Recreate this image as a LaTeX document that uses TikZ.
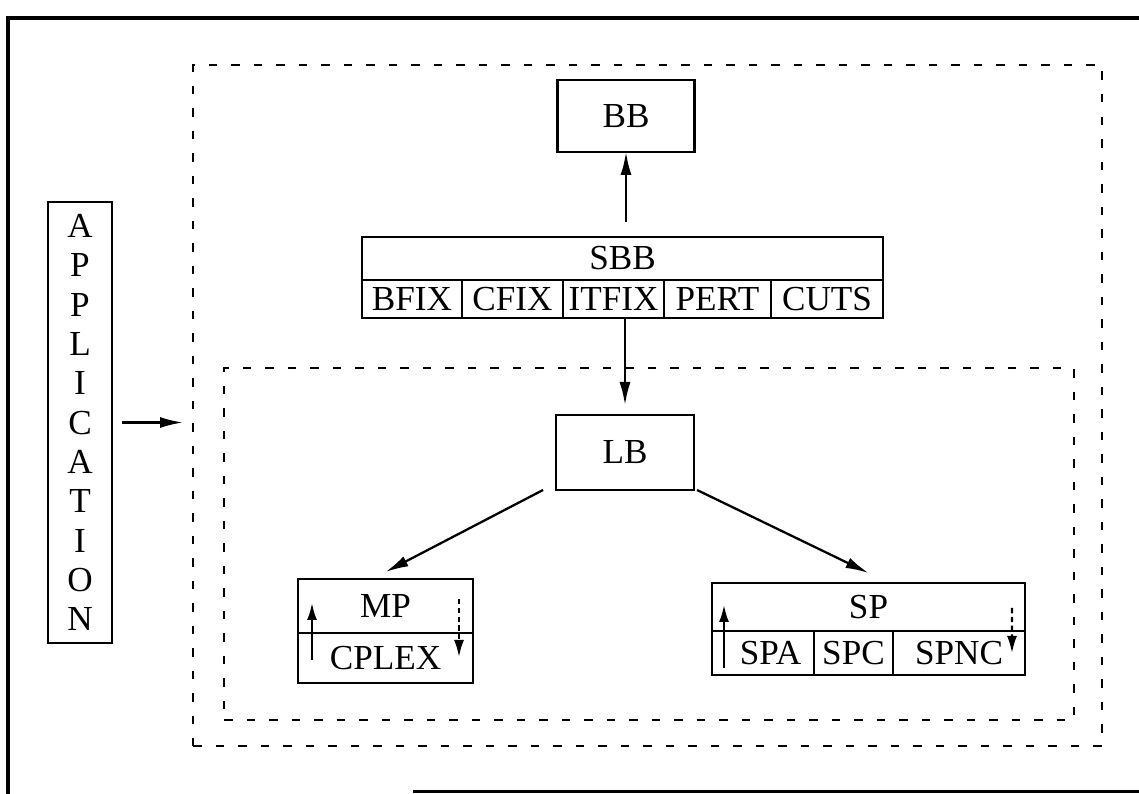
\documentclass[tikz,border=0pt]{standalone}
\usepackage{fontspec}
\setmainfont{Liberation Serif}
\usetikzlibrary{arrows.meta,positioning}

\begin{document}
\begin{tikzpicture}[
  cell/.style={draw, line width=1.3pt, inner sep=0pt, outer sep=0pt,
    font=\fontsize{20}{22.4}\selectfont},
  dashbox/.style={draw, line width=1.3pt, dash pattern=on 0.17cm off 0.28cm,
    inner sep=0pt, outer sep=0pt},
  frame/.style={line width=2pt},
  arr/.style={line width=1.3pt, -{Latex[length=0.46cm,width=0.22cm]}},
  minarr/.style={line width=1.2pt, -{Latex[length=0.34cm,width=0.2cm]}}
]
\useasboundingbox (0,0) rectangle (22.78,15.88);

% Outer frame
\draw[frame] (0.16,0) -- (0.16,15.52) -- (22.78,15.52);
\draw[frame] (8.26,0.05) -- (22.78,0.05);

% Dashed regions
\node[dashbox, minimum width=18.18cm, minimum height=13.62cm] (outer) at (12.95,7.77) {};
\node[dashbox, minimum width=17cm, minimum height=7.04cm] (inner) at (12.98,5.0) {};

% Application column
\node[cell, align=center, minimum width=1.28cm, minimum height=8.82cm] (app) at (1.6,7.43)
  {A\\P\\P\\L\\I\\C\\A\\T\\I\\O\\N};

% BB and SBB
\node[cell, minimum width=2.74cm, minimum height=1.44cm] (bb) at (12.52,13.56) {BB};
\node[cell, minimum width=10.42cm, minimum height=0.86cm] (sbb) at (12.45,10.71) {SBB};
\node[cell, minimum width=2cm, minimum height=0.76cm, anchor=north west] (bfix) at (sbb.south west) {BFIX};
\node[cell, minimum width=2.02cm, minimum height=0.76cm, right=0pt of bfix] (cfix) {CFIX};
\node[cell, minimum width=2.02cm, minimum height=0.76cm, right=0pt of cfix] (itfix) {ITFIX};
\node[cell, minimum width=2.14cm, minimum height=0.76cm, right=0pt of itfix] (pert) {PERT};
\node[cell, minimum width=2.24cm, minimum height=0.76cm, right=0pt of pert] (cuts) {CUTS};

% LB
\node[cell, minimum width=2.76cm, minimum height=1.5cm] (lb) at (12.5,6.83) {LB};

% MP
\node[cell, minimum width=3.5cm, minimum height=1.08cm] (mp) at (7.71,3.76) {MP};
\node[cell, minimum width=3.5cm, minimum height=1cm, anchor=north] (cplex) at (mp.south) {CPLEX};

% SP
\node[cell, minimum width=6.26cm, minimum height=0.96cm] (sp) at (17.37,3.74) {SP};
\node[cell, minimum width=2.04cm, minimum height=0.88cm, anchor=north west] (spa) at (sp.south west) {\hspace{0.3cm}SPA};
\node[cell, minimum width=1.58cm, minimum height=0.88cm, right=0pt of spa] (spc) {SPC};
\node[cell, minimum width=2.64cm, minimum height=0.88cm, right=0pt of spc] (spnc) {SPNC};

% Connectors
\draw[arr, shorten <=0.2cm, shorten >=0.2cm] (app.east) -- (app.east -| outer.west);
\draw[arr, shorten <=0.3cm] (sbb.north -| bb) -- (bb.south);
\draw[arr, shorten >=0.2cm] (itfix.south -| lb) -- (lb.north);
\draw[arr] ([xshift=-0.26cm]lb.south west) -- ([yshift=0.14cm]mp.north);
\draw[arr] ([xshift=0.06cm]lb.south east) -- ([yshift=0.2cm]sp.north);

% Small arrows inside MP and SP
\draw[minarr] ([xshift=0.28cm,yshift=0.46cm]cplex.south west) -- ([xshift=0.28cm,yshift=-0.48cm]mp.north west);
\draw[minarr, densely dashed] ([xshift=-0.28cm,yshift=-0.4cm]mp.north east) -- ([xshift=-0.28cm,yshift=0.52cm]cplex.south east);
\draw[minarr] ([xshift=0.24cm,yshift=0.14cm]spa.south west) -- ([xshift=0.24cm,yshift=-0.44cm]sp.north west);
\draw[minarr, densely dashed] ([xshift=-0.26cm,yshift=-0.5cm]sp.north east) -- ([xshift=-0.26cm,yshift=0.44cm]spnc.south east);
\end{tikzpicture}
\end{document}
